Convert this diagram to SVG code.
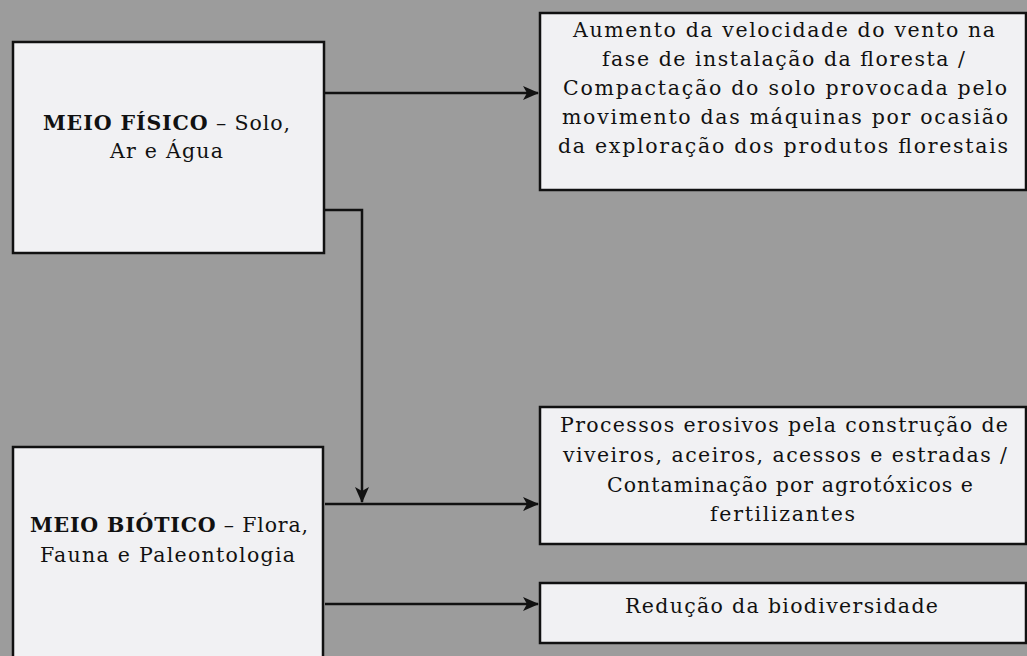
<svg xmlns="http://www.w3.org/2000/svg" width="1027" height="656" viewBox="0 0 1027 656">
  <style>
    .box { fill: #f1f1f3; stroke: #111; stroke-width: 2.5; }
    .t { font-family: "DejaVu Serif", "Liberation Serif", serif; font-size: 20.5px; fill: #111; }
    .b { font-weight: bold; }
    .c { fill: none; stroke: #111; stroke-width: 2.5; }
  </style>
  <defs>
    <marker id="arr" viewBox="0 0 16 14" refX="15" refY="7" markerUnits="userSpaceOnUse" markerWidth="16" markerHeight="14" orient="auto">
      <path d="M0,0 L16,7 L0,14 L4,7 Z" fill="#111"/>
    </marker>
  </defs>
  <rect x="0" y="0" width="1027" height="656" fill="#9c9c9c"/>

  <g id="connectors">
    <path class="c" d="M325,93 H538" marker-end="url(#arr)"/>
    <path class="c" d="M325,210 H362 V502" marker-end="url(#arr)"/>
    <path class="c" d="M325,504 H538" marker-end="url(#arr)"/>
    <path class="c" d="M325,604 H538" marker-end="url(#arr)"/>
  </g>

  <g id="meio-fisico">
    <rect class="box" x="13" y="42" width="311" height="211"/>
    <text class="t" x="43" y="130" textLength="247" lengthAdjust="spacing"><tspan class="b">MEIO FÍSICO</tspan> – Solo,</text>
    <text class="t" x="110" y="158" textLength="113" lengthAdjust="spacing">Ar e Água</text>
  </g>

  <g id="meio-biotico">
    <rect class="box" x="13" y="447" width="310" height="220"/>
    <text class="t" x="30" y="532" textLength="278" lengthAdjust="spacing"><tspan class="b">MEIO BIÓTICO</tspan> – Flora,</text>
    <text class="t" x="40" y="562" textLength="255" lengthAdjust="spacing">Fauna e Paleontologia</text>
  </g>

  <g id="impacto-fisico">
    <rect class="box" x="540" y="13" width="486" height="177"/>
    <text class="t" x="573" y="37" textLength="422" lengthAdjust="spacing">Aumento da velocidade do vento na</text>
    <text class="t" x="602" y="66" textLength="363" lengthAdjust="spacing">fase de instalação da floresta /</text>
    <text class="t" x="563" y="95" textLength="444" lengthAdjust="spacing">Compactação do solo provocada pelo</text>
    <text class="t" x="562" y="124" textLength="446" lengthAdjust="spacing">movimento das máquinas por ocasião</text>
    <text class="t" x="558" y="153" textLength="450" lengthAdjust="spacing">da exploração dos produtos florestais</text>
  </g>

  <g id="processos-erosivos">
    <rect class="box" x="540" y="407" width="486" height="137"/>
    <text class="t" x="560" y="432" textLength="448" lengthAdjust="spacing">Processos erosivos pela construção de</text>
    <text class="t" x="563" y="462" textLength="444" lengthAdjust="spacing">viveiros, aceiros, acessos e estradas /</text>
    <text class="t" x="607" y="492" textLength="366" lengthAdjust="spacing">Contaminação por agrotóxicos e</text>
    <text class="t" x="710" y="521" textLength="145" lengthAdjust="spacing">fertilizantes</text>
  </g>

  <g id="biodiversidade">
    <rect class="box" x="540" y="583" width="486" height="60"/>
    <text class="t" x="625" y="613" textLength="313" lengthAdjust="spacing">Redução da biodiversidade</text>
  </g>
</svg>
